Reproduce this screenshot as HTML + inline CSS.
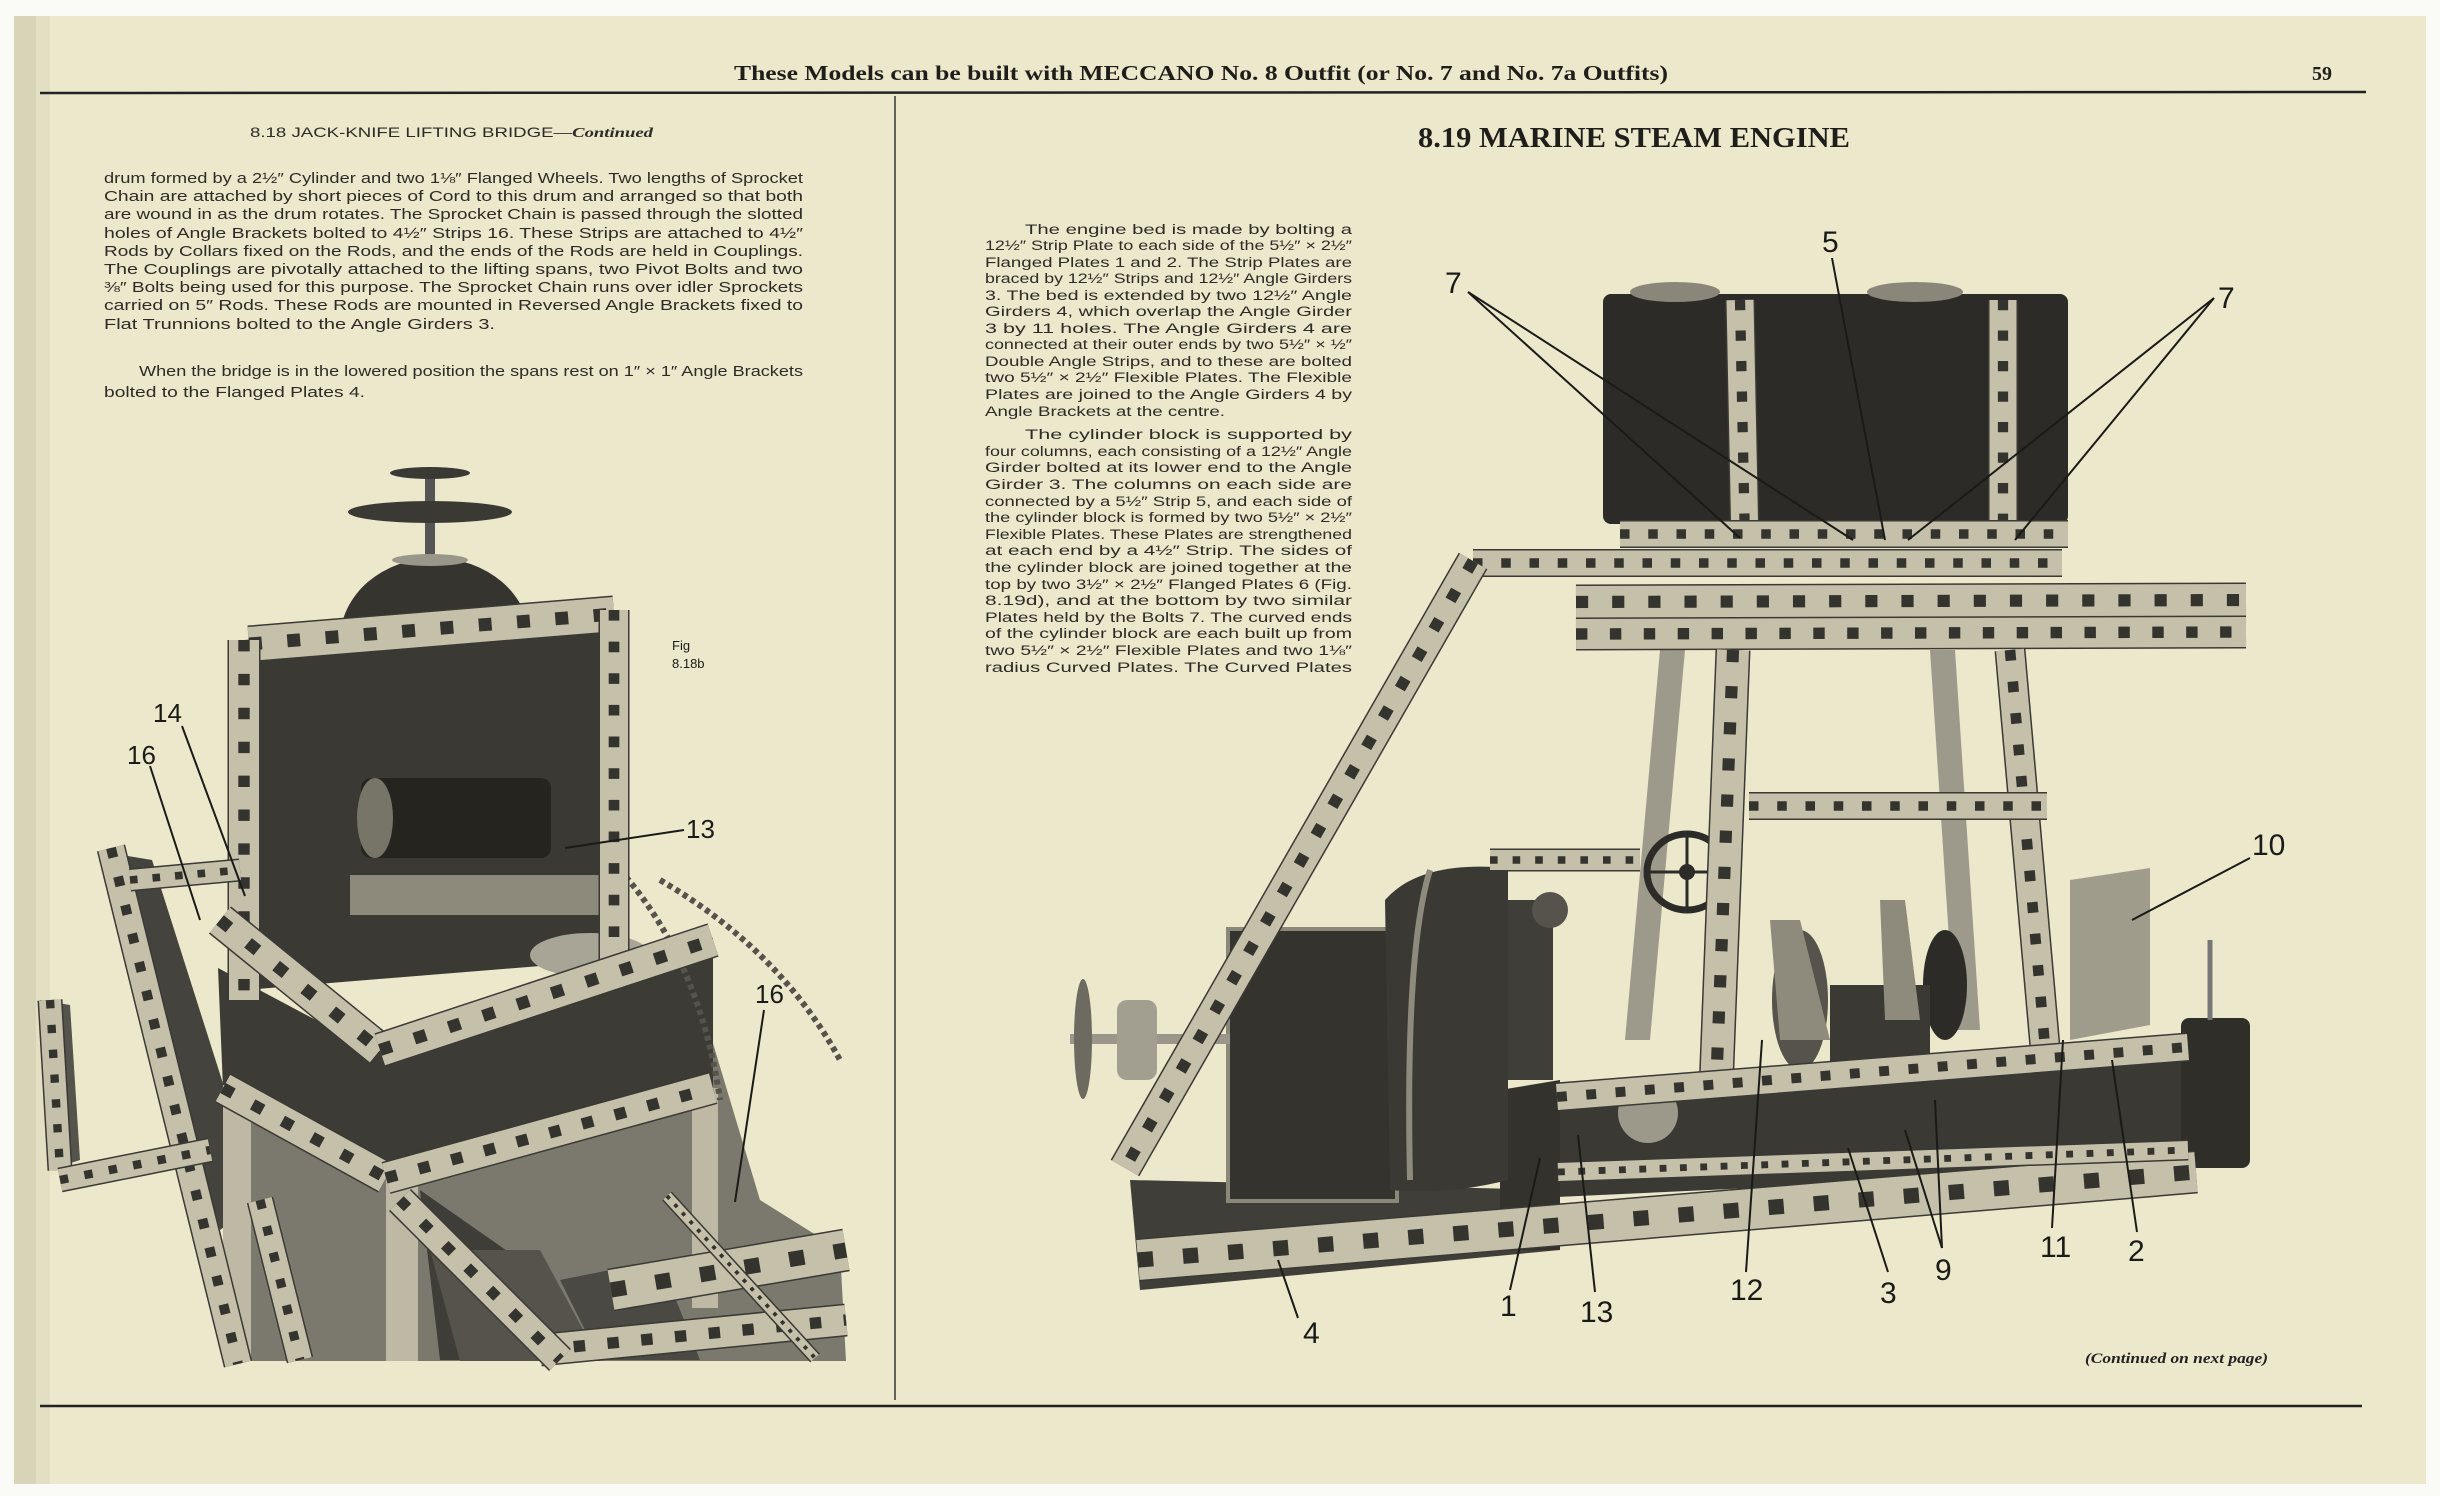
<!DOCTYPE html>
<html><head><meta charset="utf-8">
<style>
html,body{margin:0;padding:0;background:#fff;}
svg{display:block}
.b{font-family:"Liberation Sans",sans-serif;fill:#2c2b26}
.s{font-family:"Liberation Serif",serif;font-weight:bold;fill:#1f1e1a}
.lab{font-family:"Liberation Sans",sans-serif;fill:#1a1a17;font-size:30px}
</style></head>
<body>
<svg id="sv" width="2440" height="1496" viewBox="0 0 2440 1496" xmlns="http://www.w3.org/2000/svg">
<rect x="0" y="0" width="2440" height="1496" fill="#fafaf6"/>
<rect x="14" y="16" width="2412" height="1468" fill="#ece8cc"/>
<rect x="14" y="16" width="22" height="1468" fill="#d8d4b8"/>
<rect x="36" y="16" width="14" height="1468" fill="#e3dfc3"/>

<!-- header -->
<text class="s" x="734" y="80" font-size="21" textLength="934" lengthAdjust="spacingAndGlyphs">These Models can be built with MECCANO No. 8 Outfit (or No. 7 and No. 7a Outfits)</text>
<text class="s" x="2312" y="80" font-size="20">59</text>
<line x1="40" y1="93" x2="2366" y2="92" stroke="#222" stroke-width="2.5"/>
<line x1="895" y1="96" x2="895" y2="1400" stroke="#333" stroke-width="1.5"/>
<line x1="40" y1="1406" x2="2362" y2="1406" stroke="#222" stroke-width="2.5"/>

<!-- left heading -->
<text class="b" x="250" y="137" font-size="14" textLength="403" lengthAdjust="spacingAndGlyphs">8.18   JACK-KNIFE LIFTING BRIDGE—<tspan font-style="italic" font-weight="bold" font-family="Liberation Serif,serif">Continued</tspan></text>

<g class="b" font-size="14.5">
<text x="104" y="183" textLength="699" lengthAdjust="spacingAndGlyphs">drum formed by a 2½″ Cylinder and two 1⅛″ Flanged Wheels.  Two lengths of Sprocket</text>
<text x="104" y="201" textLength="699" lengthAdjust="spacingAndGlyphs">Chain are attached by short pieces of Cord to this drum  and arranged so that both</text>
<text x="104" y="219" textLength="699" lengthAdjust="spacingAndGlyphs">are wound in as the drum rotates.  The Sprocket Chain is passed through the slotted</text>
<text x="104" y="238" textLength="699" lengthAdjust="spacingAndGlyphs">holes of Angle Brackets bolted to 4½″ Strips 16.  These Strips are attached to 4½″</text>
<text x="104" y="256" textLength="699" lengthAdjust="spacingAndGlyphs">Rods by Collars fixed on the Rods, and the ends of the Rods are held in Couplings.</text>
<text x="104" y="274" textLength="699" lengthAdjust="spacingAndGlyphs">The Couplings are pivotally attached to the lifting spans, two Pivot Bolts and two</text>
<text x="104" y="292" textLength="699" lengthAdjust="spacingAndGlyphs">⅜″ Bolts being used for this purpose.  The Sprocket Chain runs over idler Sprockets</text>
<text x="104" y="310" textLength="699" lengthAdjust="spacingAndGlyphs">carried on 5″ Rods.  These Rods are mounted in Reversed Angle Brackets fixed to</text>
<text x="104" y="329" textLength="391" lengthAdjust="spacingAndGlyphs">Flat Trunnions bolted to the Angle Girders 3.</text>
<text x="139" y="376" textLength="664" lengthAdjust="spacingAndGlyphs">When the bridge is in the lowered position the spans rest on 1″ × 1″ Angle Brackets</text>
<text x="104" y="397" textLength="261" lengthAdjust="spacingAndGlyphs">bolted to the Flanged Plates 4.</text>
</g>

<!-- right heading -->
<text class="s" x="1418" y="147" font-size="28" textLength="432" lengthAdjust="spacingAndGlyphs" font-weight="normal">8.19   MARINE STEAM ENGINE</text>

<g class="b" font-size="13.5">
<text x="1025" y="234" textLength="327" lengthAdjust="spacingAndGlyphs">The engine bed is made by bolting a</text>
<text x="985" y="250" textLength="367" lengthAdjust="spacingAndGlyphs">12½″ Strip Plate to each side of the 5½″ × 2½″</text>
<text x="985" y="267" textLength="367" lengthAdjust="spacingAndGlyphs">Flanged Plates 1 and 2.  The Strip Plates are</text>
<text x="985" y="283" textLength="367" lengthAdjust="spacingAndGlyphs">braced by 12½″ Strips and 12½″ Angle Girders</text>
<text x="985" y="300" textLength="367" lengthAdjust="spacingAndGlyphs">3.  The bed is extended by two 12½″ Angle</text>
<text x="985" y="316" textLength="367" lengthAdjust="spacingAndGlyphs">Girders 4, which overlap the Angle Girder</text>
<text x="985" y="333" textLength="367" lengthAdjust="spacingAndGlyphs">3 by 11 holes.  The Angle Girders 4 are</text>
<text x="985" y="349" textLength="367" lengthAdjust="spacingAndGlyphs">connected at their outer ends by two 5½″ × ½″</text>
<text x="985" y="366" textLength="367" lengthAdjust="spacingAndGlyphs">Double Angle Strips, and to these are bolted</text>
<text x="985" y="382" textLength="367" lengthAdjust="spacingAndGlyphs">two 5½″ × 2½″ Flexible Plates.  The Flexible</text>
<text x="985" y="399" textLength="367" lengthAdjust="spacingAndGlyphs">Plates are joined to the Angle Girders 4 by</text>
<text x="985" y="416" textLength="240" lengthAdjust="spacingAndGlyphs">Angle Brackets at the centre.</text>
<text x="1025" y="439" textLength="327" lengthAdjust="spacingAndGlyphs">The cylinder block is supported by</text>
<text x="985" y="456" textLength="367" lengthAdjust="spacingAndGlyphs">four columns, each consisting of a 12½″ Angle</text>
<text x="985" y="472" textLength="367" lengthAdjust="spacingAndGlyphs">Girder bolted at its lower end to the Angle</text>
<text x="985" y="489" textLength="367" lengthAdjust="spacingAndGlyphs">Girder 3.  The columns on each side are</text>
<text x="985" y="506" textLength="367" lengthAdjust="spacingAndGlyphs">connected by a 5½″ Strip 5, and each side of</text>
<text x="985" y="522" textLength="367" lengthAdjust="spacingAndGlyphs">the cylinder block is formed by two 5½″ × 2½″</text>
<text x="985" y="539" textLength="367" lengthAdjust="spacingAndGlyphs">Flexible Plates.  These Plates are strengthened</text>
<text x="985" y="555" textLength="367" lengthAdjust="spacingAndGlyphs">at each end by a 4½″ Strip.  The sides of</text>
<text x="985" y="572" textLength="367" lengthAdjust="spacingAndGlyphs">the cylinder block are joined together at the</text>
<text x="985" y="589" textLength="367" lengthAdjust="spacingAndGlyphs">top by two 3½″ × 2½″ Flanged Plates 6 (Fig.</text>
<text x="985" y="605" textLength="367" lengthAdjust="spacingAndGlyphs">8.19d), and at the bottom by two similar</text>
<text x="985" y="622" textLength="367" lengthAdjust="spacingAndGlyphs">Plates held by the Bolts 7.  The curved ends</text>
<text x="985" y="638" textLength="367" lengthAdjust="spacingAndGlyphs">of the cylinder block are each built up from</text>
<text x="985" y="655" textLength="367" lengthAdjust="spacingAndGlyphs">two 5½″ × 2½″ Flexible Plates and two 1⅛″</text>
<text x="985" y="672" textLength="367" lengthAdjust="spacingAndGlyphs">radius Curved Plates.  The Curved Plates</text>
</g>

<text x="2085" y="1363" font-family="Liberation Serif,serif" font-style="italic" font-weight="bold" font-size="15" fill="#222" textLength="183" lengthAdjust="spacingAndGlyphs">(Continued on next page)</text>

<!-- ================= LEFT FIGURE ================= -->
<g id="L">
<polygon points="116,854 152,860 260,1200 220,1230" fill="#44433d"/>
<polygon points="40,1000 70,1005 80,1160 50,1170" fill="#55544c"/>
<polygon points="250,1100 700,1000 760,1200 840,1250 846,1361 230,1361" fill="#7b796d"/>
<polygon points="420,1190 520,1260 560,1360 440,1360" fill="#3e3d37"/>
<polygon points="560,1280 660,1260 700,1360 600,1360" fill="#4a4943"/>
<polygon points="430,1250 540,1250 600,1361 460,1361" fill="#55534b"/>
<!-- housing -->
<polygon points="244,640 614,610 614,960 244,990" fill="#3a3934"/>
<path d="M340,640 A95,82 0 0 1 530,640 Z" fill="#35342f"/>
<rect x="425" y="470" width="10" height="90" fill="#555"/>
<ellipse cx="430" cy="512" rx="82" ry="11" fill="#3a3934"/>
<ellipse cx="430" cy="473" rx="40" ry="6" fill="#3a3934"/>
<ellipse cx="430" cy="560" rx="38" ry="6" fill="#99968a"/>
<rect x="361" y="778" width="190" height="80" rx="10" fill="#25241f"/>
<ellipse cx="375" cy="818" rx="18" ry="40" fill="#777468"/>
<rect x="350" y="875" width="250" height="40" fill="#8d8a7c"/>
<polygon points="218,968 376,1052 713,938 713,1088 386,1178 223,1088" fill="#3c3b35"/>
<rect x="223" y="1085" width="28" height="276" fill="#bdb9a5"/>
<rect x="386" y="1175" width="32" height="186" fill="#bdb9a5"/>
<rect x="692" y="1088" width="26" height="220" fill="#bdb9a5"/>
<ellipse cx="590" cy="955" rx="60" ry="22" fill="#a8a596"/>
<path d="M620,870 Q700,960 720,1100 M660,880 Q780,950 840,1060" stroke="#55534b" stroke-width="6" stroke-dasharray="5 4" fill="none"/>
</g>

<!-- ================= RIGHT FIGURE ================= -->
<g id="R">
<polygon points="1130,1180 1560,1190 1560,1250 1140,1290" fill="#3f3e38"/>
<polygon points="1660,650 1685,650 1650,1040 1625,1040" fill="#9d9a8b"/>
<polygon points="1930,650 1955,650 1980,1030 1955,1030" fill="#9d9a8b"/>
<rect x="1603" y="294" width="465" height="230" rx="8" fill="#2c2b27"/>
<ellipse cx="1675" cy="292" rx="45" ry="10" fill="#8a877a"/>
<ellipse cx="1915" cy="292" rx="48" ry="10" fill="#8a877a"/>
<polygon points="1557,1097 2188,1047 2188,1168 1557,1197" fill="#3a3934"/>
<polygon points="1500,1090 1560,1080 1560,1250 1500,1250" fill="#33322d"/>
<rect x="1228" y="929" width="169" height="272" fill="#34332e"/>
<rect x="1228" y="929" width="169" height="272" fill="none" stroke="#8b8879" stroke-width="4"/>
<path d="M1385,900 Q1420,860 1508,868 L1508,1180 Q1450,1195 1390,1190 Z" fill="#3a3934"/>
<path d="M1430,870 Q1405,950 1410,1180" stroke="#8e8b7d" stroke-width="6" fill="none"/>
<rect x="1508" y="900" width="45" height="180" fill="#3f3e38"/>
<rect x="1070" y="1034" width="160" height="10" fill="#9a978a"/>
<ellipse cx="1083" cy="1039" rx="9" ry="60" fill="#6d6a5f"/>
<rect x="1117" y="1000" width="40" height="80" rx="10" fill="#a29f90"/>
<polygon points="2070,880 2150,868 2150,1025 2070,1040" fill="#9f9c8c"/>
<rect x="2181" y="1018" width="69" height="150" rx="8" fill="#2f2e29"/>
<line x1="2210" y1="940" x2="2210" y2="1020" stroke="#777" stroke-width="5"/>
<ellipse cx="1687" cy="872" rx="40" ry="38" fill="none" stroke="#2c2b27" stroke-width="7"/>
<circle cx="1687" cy="872" r="8" fill="#2c2b27"/>
<line x1="1650" y1="872" x2="1724" y2="872" stroke="#2c2b27" stroke-width="3"/>
<line x1="1687" y1="836" x2="1687" y2="908" stroke="#2c2b27" stroke-width="3"/>
<ellipse cx="1800" cy="1000" rx="28" ry="70" fill="#55534b"/>
<ellipse cx="1945" cy="985" rx="22" ry="55" fill="#2c2b27"/>
<rect x="1830" y="985" width="100" height="120" fill="#3a3934"/>
<circle cx="1648" cy="1113" r="30" fill="#9c998a"/>
<circle cx="1550" cy="910" r="18" fill="#55534b"/>
<polygon points="1770,920 1800,920 1830,1040 1780,1040" fill="#8e8b7d"/>
<polygon points="1880,900 1905,900 1920,1020 1885,1020" fill="#8e8b7d"/>
</g>
<g id="strips"></g>

<g stroke="#1a1a17" stroke-width="2" fill="none">
<line x1="182" y1="726" x2="245" y2="896"/>
<line x1="150" y1="766" x2="200" y2="920"/>
<line x1="684" y1="830" x2="565" y2="848"/>
<line x1="764" y1="1010" x2="735" y2="1202"/>
<line x1="1468" y1="292" x2="1740" y2="538"/>
<line x1="1468" y1="292" x2="1853" y2="540"/>
<line x1="2214" y1="298" x2="1908" y2="540"/>
<line x1="2214" y1="298" x2="2015" y2="540"/>
<line x1="1832" y1="258" x2="1885" y2="540"/>
<line x1="2250" y1="858" x2="2132" y2="920"/>
<line x1="1298" y1="1318" x2="1278" y2="1260"/>
<line x1="1510" y1="1290" x2="1540" y2="1158"/>
<line x1="1595" y1="1292" x2="1578" y2="1135"/>
<line x1="1746" y1="1272" x2="1762" y2="1040"/>
<line x1="1888" y1="1272" x2="1848" y2="1148"/>
<line x1="1942" y1="1248" x2="1905" y2="1130"/>
<line x1="1942" y1="1248" x2="1935" y2="1100"/>
<line x1="2052" y1="1228" x2="2063" y2="1040"/>
<line x1="2137" y1="1232" x2="2112" y2="1060"/>
</g>
<g class="lab">
<text x="153" y="722" font-size="26">14</text>
<text x="127" y="764" font-size="26">16</text>
<text x="686" y="838" font-size="26">13</text>
<text x="755" y="1003" font-size="26">16</text>
<text x="672" y="650" font-size="13">Fig</text>
<text x="672" y="668" font-size="13">8.18b</text>
<text x="1445" y="293">7</text>
<text x="2218" y="308">7</text>
<text x="1822" y="252">5</text>
<text x="2252" y="855">10</text>
<text x="1303" y="1343">4</text>
<text x="1500" y="1316">1</text>
<text x="1580" y="1322">13</text>
<text x="1730" y="1300">12</text>
<text x="1880" y="1303">3</text>
<text x="1935" y="1280">9</text>
<text x="2040" y="1257">11</text>
<text x="2128" y="1261">2</text>
</g>
</svg>
<script>
var S=[
[249,644,614,614,34],[244,640,244,1000,30],[614,610,614,960,28],
[220,920,380,1050,32],[380,1050,713,940,32],[223,1088,386,1178,30],[386,1178,713,1088,30],
[111,848,238,1364,26],[50,1000,60,1170,22],[60,1180,210,1150,22],
[611,1290,846,1250,40],[540,1350,846,1320,30],[667,1196,815,1358,10],
[130,880,240,870,20],[400,1200,560,1360,28],[260,1200,300,1360,24],
[1740,300,1745,545,27],[2003,300,2003,545,27],[1620,534,2068,534,25],
[1473,563,2062,563,25],[1576,602,2246,600,32],[1576,634,2246,632,30],
[1733,650,1716,1090,32],[2010,650,2045,1047,28],[1749,806,2047,806,25],
[1473,561,1125,1168,30],[1138,1260,2196,1172,40],[1557,1097,2188,1047,26],
[1490,860,1640,860,20],[1558,1172,2188,1150,18]
];
var g=document.getElementById('strips'),ns='http://www.w3.org/2000/svg';
S.forEach(function(s){
 var L=[[s[4]+3,'#3a3934',null],[s[4],'#c4c0aa',null],[s[4]*0.38,'#34332e',(s[4]*0.38)+' '+(s[4]*0.75)]];
 L.forEach(function(p){var l=document.createElementNS(ns,'line');
  l.setAttribute('x1',s[0]);l.setAttribute('y1',s[1]);l.setAttribute('x2',s[2]);l.setAttribute('y2',s[3]);
  l.setAttribute('stroke',p[1]);l.setAttribute('stroke-width',p[0]);
  if(p[2]){l.setAttribute('stroke-dasharray',p[2]);}
  g.appendChild(l);});
});
</script>
</body></html>
